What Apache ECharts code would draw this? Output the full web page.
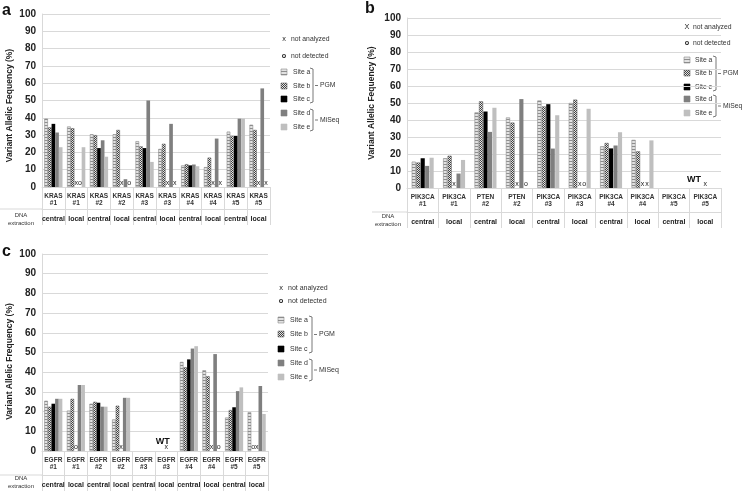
<!DOCTYPE html>
<html>
<head>
<meta charset="utf-8">
<script src="https://cdn.jsdelivr.net/npm/echarts@6/dist/echarts.min.js"></script>
<style>
  html, body { margin: 0; padding: 0; background: #fff; }
  #chart { width: 746px; height: 492px; }
</style>
</head>
<body>
<div id="chart"></div>
<script>
// ---- data ('x' = not analyzed, 'o' = not detected, 'WT' = wild type, '-' = none)
const extraction = ['central', 'local', 'central', 'local', 'central', 'local', 'central', 'local', 'central', 'local'];

// panel a
const catsA = ['KRAS\n#1', 'KRAS\n#1', 'KRAS\n#2', 'KRAS\n#2', 'KRAS\n#3', 'KRAS\n#3', 'KRAS\n#4', 'KRAS\n#4', 'KRAS\n#5', 'KRAS\n#5'];
const aSiteA = [39.5, 35, 30.5, 30.5, 26.5, 22, 12.5, 11.5, 32, 36];
const aSiteB = [34.5, 34, 30, 33, 23.5, 25, 13.2, 17, 29.5, 33];
const aSiteC = [36.5, 'x', 22.5, 'x', 22.5, 'x', 12.5, 'x', 29.5, 'x'];
const aSiteD = [31.5, 'o', 27, 4.5, 50, 36.5, 13, 28, 39.5, 57];
const aSiteE = [23, 23, 17.5, 'o', 14.5, 'x', 12, 'x', 39.5, 'x'];

// panel b
const catsB = ['PIK3CA\n#1', 'PIK3CA\n#1', 'PTEN\n#2', 'PTEN\n#2', 'PIK3CA\n#3', 'PIK3CA\n#3', 'PIK3CA\n#4', 'PIK3CA\n#4', 'PIK3CA\n#5', 'PIK3CA\n#5'];
const bSiteA = [15.5, 17.5, 44.5, 41.5, 51.5, 50, 24.5, 28.3, '-', '-'];
const bSiteB = [15, 19, 51, 38.5, 48, 52, 26.5, 21.6, '-', '-'];
const bSiteC = [17.5, 'x', 45, 'x', 49.3, 'x', 23.3, 'x', 'WT', 'x'];
const bSiteD = [13, 8.5, 33, 52.3, 23.2, 'o', 25, 'x', '-', '-'];
const bSiteE = [17.8, 16.5, 47.2, 'o', 42.8, 46.6, 32.8, 28, '-', '-'];

// panel c
const catsC = ['EGFR\n#1', 'EGFR\n#1', 'EGFR\n#2', 'EGFR\n#2', 'EGFR\n#3', 'EGFR\n#3', 'EGFR\n#4', 'EGFR\n#4', 'EGFR\n#5', 'EGFR\n#5'];
const cSiteA = [25.5, 20.5, 24, 16, '-', '-', 45.2, 41, 17, 19.7];
const cSiteB = [22.5, 26.5, 25, 23, '-', '-', 42.5, 38, 20.8, 'o'];
const cSiteC = [24, 'o', 24.5, 'x', 'WT', 'x', 46.5, 'x', 22.2, 'x'];
const cSiteD = [26.5, 33.5, 22.5, 27, '-', '-', 52, 49.2, 30.4, 33];
const cSiteE = [26.5, 33.5, 22.5, 27, '-', '-', 53.2, 'o', 32.3, 18.8];

const siteNames = ['Site a', 'Site b', 'Site c', 'Site d', 'Site e'];

// ---- fills
function pattern(kind) {
  const c = document.createElement('canvas');
  const g = c.getContext('2d');
  if (kind === 'a') {
    c.width = 4; c.height = 3;
    g.fillStyle = '#e2e2e2'; g.fillRect(0, 0, 4, 3);
    g.fillStyle = '#8e8e8e'; g.fillRect(0, 2, 4, 1);
  } else {
    c.width = 2; c.height = 2;
    g.fillStyle = '#e6e6e6'; g.fillRect(0, 0, 2, 2);
    g.fillStyle = '#404040'; g.fillRect(0, 0, 1, 1); g.fillRect(1, 1, 1, 1);
  }
  return {image: c, repeat: 'repeat'};
}
const fills = [pattern('a'), pattern('b'), '#000000', '#7f7f7f', '#bfbfbf'];
const borders = ['#8a8a8a', '#6a6a6a', '#000000', '#7f7f7f', '#bfbfbf'];

const FONT = 'Liberation Sans';
const GRID = '#d9d9d9';

const chart = echarts.init(document.getElementById('chart'));

function toData(arr, wtOffset) {
  return arr.map(v => {
    if (typeof v === 'number') return v;
    if (v === 'x' || v === 'o') {
      return {value: 0, itemStyle: {borderWidth: 0}, label: {show: true, formatter: v}};
    }
    if (v === 'WT') {
      return {value: 0, itemStyle: {borderWidth: 0}, label: {show: true, formatter: 'WT', fontSize: 9,
        fontWeight: 'bold', color: '#111', offset: wtOffset, distance: 3}};
    }
    return '-';
  });
}

const panels = [
  {cats: catsA, sites: [aSiteA, aSiteB, aSiteC, aSiteD, aSiteE], grid: {left: 42, top: 14, width: 228, height: 173},
    title: 'Variant Allelic Fequency (%)', namePad: [0, 10, 0, 0], nameGap: 28, gap: '20%', barGap: '0%', off2: 22, wt: [0, 0]},
  {cats: catsB, sites: [bSiteA, bSiteB, bSiteC, bSiteD, bSiteE], grid: {left: 407, top: 18, width: 314, height: 170},
    title: 'Variant Allelic Fequency (%)', namePad: [0, 0, 0, 0], nameGap: 31, gap: '30%', barGap: '8%', off2: 24, wt: [20, -1]},
  {cats: catsC, sites: [cSiteA, cSiteB, cSiteC, cSiteD, cSiteE], grid: {left: 42, top: 254, width: 226, height: 197},
    title: 'Variant Allelic Frequency (%)', namePad: [0, 18, 0, 0], nameGap: 28, gap: '20%', barGap: '0%', off2: 24, wt: [19, -2]}
];

const grids = [], xAxes = [], yAxes = [], series = [];
panels.forEach((p, i) => {
  grids.push(p.grid);
  xAxes.push({
    type: 'category', gridIndex: i, data: p.cats,
    axisLine: {lineStyle: {color: GRID}},
    axisTick: {show: true, interval: 0, length: p.off2 + 16, lineStyle: {color: GRID}},
    axisLabel: {interval: 0, fontFamily: FONT, fontSize: 6.5, fontWeight: 'bold', color: '#333', lineHeight: 7.5, margin: 5}
  });
  xAxes.push({
    type: 'category', gridIndex: i, data: extraction, position: 'bottom', offset: p.off2,
    axisLine: {show: true, lineStyle: {color: GRID}},
    axisTick: {show: false},
    axisLabel: {interval: 0, fontFamily: FONT, fontSize: 7, fontWeight: 'bold', color: '#222', margin: 7}
  });
  yAxes.push({
    type: 'value', gridIndex: i, min: 0, max: 100, interval: 10,
    name: p.title, nameLocation: 'middle', nameRotate: 90, nameGap: p.nameGap,
    nameTextStyle: {fontFamily: FONT, fontSize: 8.5, fontWeight: 'bold', color: '#222', padding: p.namePad},
    axisLine: {show: true, lineStyle: {color: GRID}},
    axisTick: {show: false},
    splitLine: {lineStyle: {color: GRID}},
    axisLabel: {fontFamily: FONT, fontSize: 10, fontWeight: 'bold', color: '#222', margin: 6}
  });
  p.sites.forEach((arr, k) => {
    series.push({
      type: 'bar', name: siteNames[k], xAxisIndex: i * 2, yAxisIndex: i,
      data: toData(arr, p.wt),
      barCategoryGap: p.gap, barGap: p.barGap,
      itemStyle: {color: fills[k], borderColor: borders[k], borderWidth: k < 2 ? 0.6 : 0},
      label: {show: false, position: 'top', distance: 0, fontFamily: FONT, fontSize: 7, color: '#222'},
      animation: false
    });
  });
});

// ---- legends, brackets and panel letters
const graphic = [];
function txt(x, y, s, size, opts) {
  graphic.push({type: 'text', x: x, y: y, style: Object.assign({text: s, fontFamily: FONT, fontSize: size,
    fill: '#333', verticalAlign: 'middle', align: 'left'}, opts || {})});
}
function line(pts) {
  graphic.push({type: 'polyline', shape: {points: pts}, style: {stroke: '#555', lineWidth: 0.8, fill: null}});
}
function legend(L) {
  txt(L.mx, L.ys[0], L.xMark || 'x', L.fs + 0.5, {fill: '#222', align: 'center'});
  txt(L.tx - 2, L.ys[0], 'not analyzed', L.fs);
  txt(L.mx, L.ys[1], 'o', L.fs + 0.5, {fill: '#222', align: 'center', fontWeight: 'bold'});
  txt(L.tx - 2, L.ys[1], 'not detected', L.fs);
  for (let k = 0; k < 5; k++) {
    const y = L.ys[k + 2];
    graphic.push({type: 'rect', shape: {x: L.mx - 3, y: y - 3, width: 6, height: 6},
      style: {fill: fills[k], stroke: borders[k], lineWidth: 0.6}});
    txt(L.tx, y, siteNames[k], L.fs);
  }
  const pg = [L.ys[2] - 4, L.ys[4] + 4], ms = [L.ys[5] - 4, L.ys[6] + 4];
  [pg, ms].forEach(r => {
    line([[L.bx - 3, r[0]], [L.bx, r[0] + 1], [L.bx, r[1] - 1], [L.bx - 3, r[1]]]);
    const m = (r[0] + r[1]) / 2;
    line([[L.bx + 2, m], [L.bx + 5, m]]);
  });
  txt(L.bx + 7, (pg[0] + pg[1]) / 2, 'PGM', L.fs);
  txt(L.bx + 7, (ms[0] + ms[1]) / 2, 'MiSeq', L.fs);
}
legend({mx: 284, tx: 293, ys: [39, 56, 72, 86, 99, 113, 127], bx: 313, fs: 6.8});
legend({mx: 687, tx: 695, ys: [27, 43, 60, 73, 87, 99, 113], bx: 716, fs: 6.8, xMark: 'X'});
legend({mx: 281, tx: 290, ys: [288, 301, 320, 334, 349, 363, 377], bx: 312, fs: 7});

// "DNA extraction" row headers
[[21, 219, 209], [388, 220, 212], [21, 482, 475]].forEach(r => {
  txt(r[0], r[1], 'DNA\nextraction', 6, {align: 'center', fill: '#333', lineHeight: 8});
});
graphic.push({type: 'line', shape: {x1: 0, y1: 209, x2: 42, y2: 209}, style: {stroke: GRID, lineWidth: 1}});
graphic.push({type: 'line', shape: {x1: 372, y1: 212, x2: 407, y2: 212}, style: {stroke: GRID, lineWidth: 1}});
graphic.push({type: 'line', shape: {x1: 0, y1: 475, x2: 42, y2: 475}, style: {stroke: GRID, lineWidth: 1}});

txt(2, 11, 'a', 16, {fontWeight: 'bold', fill: '#111'});
txt(365, 9, 'b', 16, {fontWeight: 'bold', fill: '#111'});
txt(2, 252, 'c', 16, {fontWeight: 'bold', fill: '#111'});

chart.setOption({
  animation: false,
  backgroundColor: '#ffffff',
  grid: grids,
  xAxis: xAxes,
  yAxis: yAxes,
  series: series,
  graphic: graphic
});
</script>
</body>
</html>
